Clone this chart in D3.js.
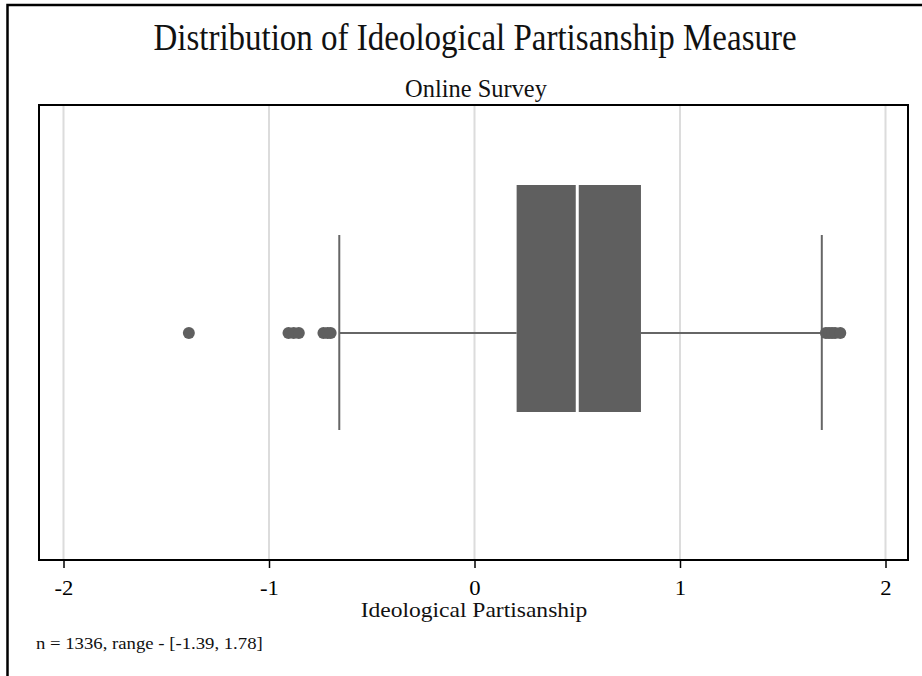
<!DOCTYPE html>
<html>
<head>
<meta charset="utf-8">
<script src="https://cdn.jsdelivr.net/npm/d3@7"></script>
<style>
  html, body { margin: 0; padding: 0; background: #fff; }
  svg { display: block; }
</style>
</head>
<body>
<svg id="chart" width="922" height="676"></svg>
<script>
// Box-plot summary of the ideological partisanship measure
const summary = { q1: 0.205, median: 0.50, q3: 0.81, whiskerLow: -0.658, whiskerHigh: 1.69 };
const outliers = [-1.39, -0.905, -0.88, -0.855, -0.735, -0.715, -0.70, 1.71, 1.725, 1.74, 1.755, 1.78];
const xTicks = [-2, -1, 0, 1, 2];
const titleText = "Distribution of Ideological Partisanship Measure";
const subtitleText = "Online Survey";
const xLabel = "Ideological Partisanship";
const noteText = "n = 1336, range - [-1.39, 1.78]";

const svg = d3.select("#chart");
const W = 922, H = 676;
const plot = { left: 39, right: 908, top: 105, bottom: 560 };
const font = "'Liberation Serif', 'Times New Roman', serif";

// outer frame (runs off the right and bottom edges)
svg.append("path")
  .attr("d", `M7.5,${H + 5} V5 H${W + 5}`)
  .attr("fill", "none").attr("stroke", "#000").attr("stroke-width", 2.5);

const x = d3.scaleLinear().domain([-2, 2]).range([63.5, 885.5]);
const yMid = 333;

// grid lines
svg.append("g").selectAll("line").data(xTicks).join("line")
  .attr("x1", d => x(d)).attr("x2", d => x(d))
  .attr("y1", plot.top).attr("y2", plot.bottom)
  .attr("stroke", "#dcdcdc").attr("stroke-width", 2);

// whiskers
const g = svg.append("g");
g.append("line")
  .attr("x1", x(summary.whiskerLow)).attr("x2", x(summary.q1))
  .attr("y1", yMid).attr("y2", yMid)
  .attr("stroke", "#666").attr("stroke-width", 2);
g.append("line")
  .attr("x1", x(summary.q3)).attr("x2", x(summary.whiskerHigh))
  .attr("y1", yMid).attr("y2", yMid)
  .attr("stroke", "#666").attr("stroke-width", 2);
[summary.whiskerLow, summary.whiskerHigh].forEach(v => {
  g.append("line")
    .attr("x1", x(v)).attr("x2", x(v))
    .attr("y1", 235).attr("y2", 430)
    .attr("stroke", "#666").attr("stroke-width", 2);
});

// box
g.append("rect")
  .attr("x", x(summary.q1)).attr("width", x(summary.q3) - x(summary.q1))
  .attr("y", 185).attr("height", 227)
  .attr("fill", "#5f5f5f");
g.append("line")
  .attr("x1", x(summary.median)).attr("x2", x(summary.median))
  .attr("y1", 185).attr("y2", 412)
  .attr("stroke", "#fff").attr("stroke-width", 3);

// outliers
g.selectAll("circle").data(outliers).join("circle")
  .attr("cx", d => x(d)).attr("cy", yMid).attr("r", 6)
  .attr("fill", "#5f5f5f");

// plot frame
svg.append("rect")
  .attr("x", plot.left).attr("y", plot.top)
  .attr("width", plot.right - plot.left).attr("height", plot.bottom - plot.top)
  .attr("fill", "none").attr("stroke", "#000").attr("stroke-width", 2);

// x axis
const axis = svg.append("g")
  .attr("transform", `translate(0,${plot.bottom})`)
  .call(d3.axisBottom(x).tickValues(xTicks).tickSize(8).tickSizeOuter(0));
axis.select(".domain").remove();
axis.selectAll(".tick line").attr("stroke", "#000").attr("stroke-width", 1.5);
axis.selectAll(".tick text")
  .attr("font-family", font).attr("font-size", 21).attr("fill", "#000")
  .attr("y", 35).attr("dy", 0)
  .attr("transform", "scale(1.08,1)")
  .text(d => d < 0 ? "-" + Math.abs(d) : String(d));

// texts, each with its own horizontal stretch
function label(txt, cx, baseline, size, sx, anchor) {
  svg.append("text")
    .attr("transform", `translate(${cx},${baseline}) scale(${sx},1)`)
    .attr("text-anchor", anchor || "middle")
    .attr("font-family", font).attr("font-size", size).attr("fill", "#111")
    .text(txt);
}
label(titleText, 475, 50, 37.5, 0.88);
label(subtitleText, 476, 97, 26, 0.94);
label(xLabel, 474, 617, 22, 1.07);
label(noteText, 36, 649, 17.5, 1.07, "start");
</script>
</body>
</html>
